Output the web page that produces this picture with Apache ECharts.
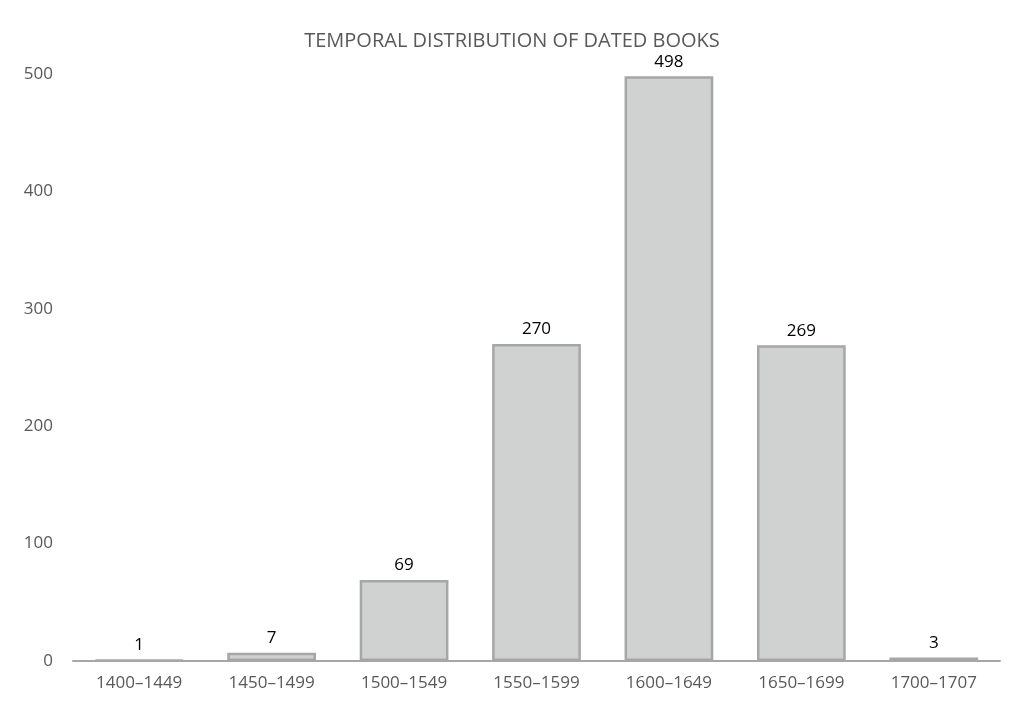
<!DOCTYPE html>
<html><head><meta charset="utf-8">
<script src="https://cdn.jsdelivr.net/npm/echarts@6/dist/echarts.min.js"></script>
<style>html,body{margin:0;padding:0;background:#fff}#c{width:1024px;height:725px}</style>
</head><body><div id="c"></div>
<script>
const categories = ['1400–1449','1450–1499','1500–1549','1550–1599','1600–1649','1650–1699','1700–1707'];
const values = [1,7,69,270,498,269,3];
const yTicks = [0,100,200,300,400,500];
const chart = echarts.init(document.getElementById('c'));
chart.setOption({
  backgroundColor:'#fff',
  title:{text:'TEMPORAL DISTRIBUTION OF DATED BOOKS',left:'center',top:26,textStyle:{color:'#595959',fontSize:20,fontWeight:'normal',fontFamily:'Open Sans'}},
  grid:{left:73,right:24,top:74,bottom:64},
  xAxis:{type:'category',data:categories,axisLine:{lineStyle:{color:'#a6a6a6',width:2}},axisTick:{show:false},
    axisLabel:{color:'#595959',fontSize:17,fontFamily:'Open Sans',margin:14}},
  yAxis:{type:'value',min:0,max:500,interval:100,axisLine:{show:false},axisTick:{show:false},splitLine:{show:false},
    axisLabel:{color:'#595959',fontSize:17,fontFamily:'Open Sans',margin:20,formatter:v=>yTicks.includes(v)?String(v):''}},
  series:[{type:'bar',data:values,barCategoryGap:'33%',
    itemStyle:{color:'#d0d2d1',borderColor:'#a6a6a6',borderWidth:2.5},
    label:{show:true,position:'top',color:'#000',fontSize:17,fontFamily:'Open Sans',distance:6}}]
});
</script></body></html>
